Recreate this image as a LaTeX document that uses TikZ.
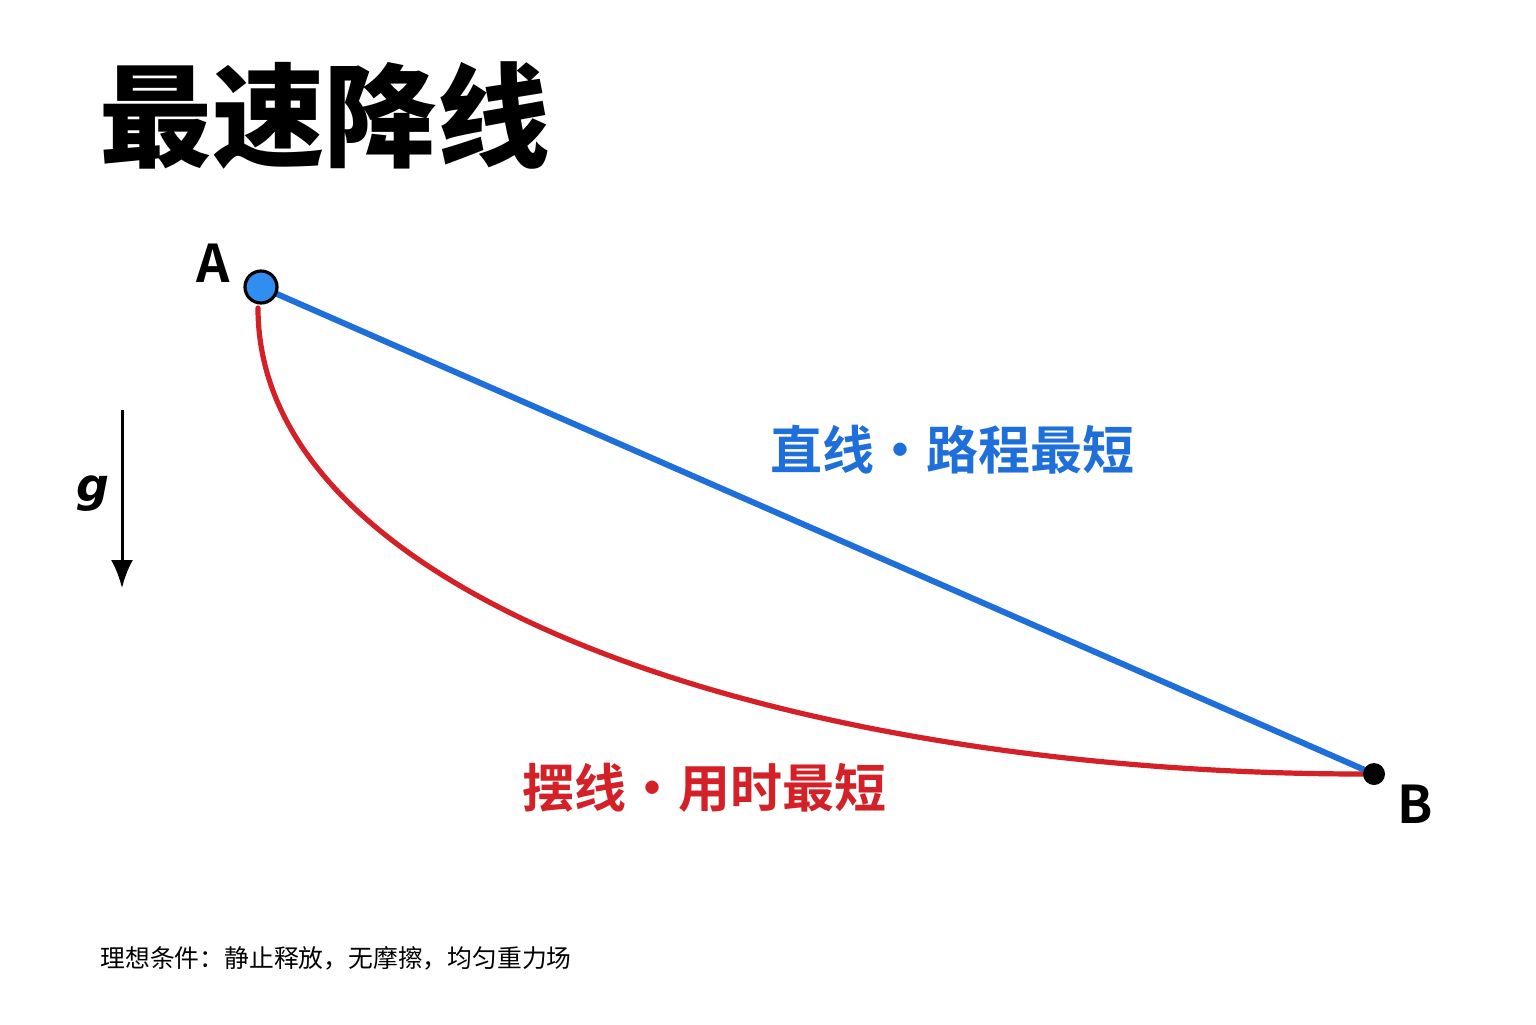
\documentclass[tikz,border=0pt]{standalone}
\usepackage{fontspec}
\setmainfont{Noto Sans}
\newfontfamily\cjk{Noto Sans CJK SC}
\newfontfamily\cjkbold{Noto Sans CJK SC Bold}
\newfontfamily\cjkblack{Noto Sans CJK SC Black}
\newfontfamily\gfont{DejaVu Sans}
\usetikzlibrary{arrows.meta}
\definecolor{pathblue}{HTML}{1F6FDB}
\definecolor{pathred}{HTML}{D42027}
\definecolor{dotblue}{HTML}{2F8EF0}
\tikzset{
  lbl/.style={inner sep=0pt, anchor=center},
  curvered/.style={pathred, line width=2.6pt, line cap=round, line join=round},
}
\begin{document}
\begin{tikzpicture}[x=0.5pt,y=-0.5pt]
\useasboundingbox (0,0) rectangle (1536,1024);
\fill[white] (0,0) rectangle (1536,1024);
% title
\node[lbl, anchor=west] (title) at (99,115) {\cjkblack\fontsize{56.3pt}{60pt}\selectfont 最速降线};
% points
\coordinate (Ac) at (261,287);
\coordinate (Bc) at (1374,774);
\coordinate (redstart) at (258,308);
\coordinate (redend) at (1364,774);
% red curve
\draw[curvered] (redstart) .. controls (258,600) and (790,774) .. (redend);
% blue line
\draw[pathblue, line width=3pt] (Ac) -- (Bc);
% A dot
\node[circle, fill=dotblue, draw=black, line width=1.6pt, minimum size=16pt, inner sep=0pt] (A) at (Ac) {};
\node[circle, fill=black, minimum size=11pt, inner sep=0pt] (B) at (Bc) {};
\node[lbl] (Alabel) at (213,263) {\cjkbold\fontsize{26pt}{28pt}\selectfont A};
\node[lbl] (Blabel) at (1415,804) {\cjkbold\fontsize{26pt}{28pt}\selectfont B};
% labels
\node[lbl] (bluelbl) at (952,450) {\cjkbold\color{pathblue}\fontsize{26pt}{28pt}\selectfont 直线·路程最短};
\node[lbl] (redlbl) at (704,788) {\cjkbold\color{pathred}\fontsize{26pt}{28pt}\selectfont 摆线·用时最短};
% gravity
\coordinate (gtop) at (122,410);
\coordinate (gbot) at (122,588);
\draw[black, line width=1.5pt, -{Latex[length=14pt,width=11pt]}] (gtop) -- (gbot);
\node[lbl] (g) at (93,494) {\gfont\bfseries\itshape\fontsize{23pt}{26pt}\selectfont g};
% footnote
\node[lbl, anchor=west] (note) at (100,958) {\cjk\fontsize{12.4pt}{14pt}\selectfont 理想条件：静止释放，无摩擦，均匀重力场};
\end{tikzpicture}
\end{document}
